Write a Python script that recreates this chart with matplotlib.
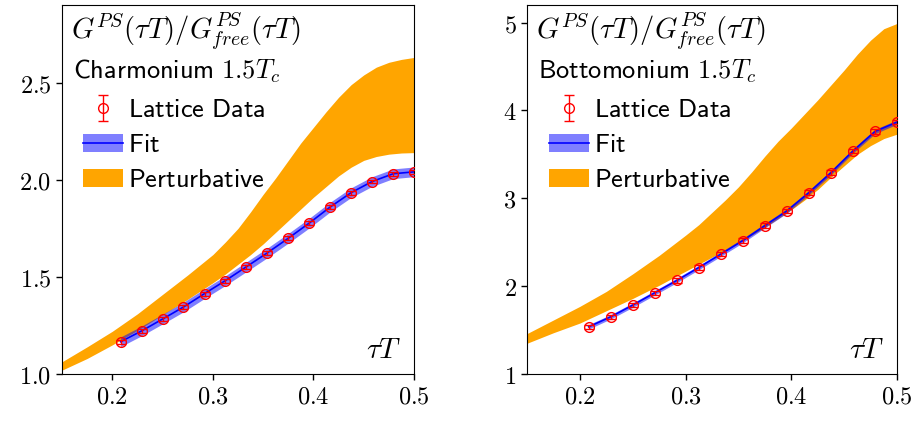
import matplotlib
matplotlib.use("Agg")
import matplotlib.pyplot as plt
import numpy as np
from matplotlib.patches import Patch
from matplotlib.lines import Line2D

plt.rcParams['mathtext.fontset'] = 'cm'
plt.rcParams['font.family'] = 'DejaVu Sans'

# tau*T points (N_tau = 48)
tau = [0.2083, 0.2292, 0.2500, 0.2708, 0.2917, 0.3125, 0.3333, 0.3542,
       0.3750, 0.3958, 0.4167, 0.4375, 0.4583, 0.4792, 0.5000]

# charmonium lattice data
charm_y = [1.166, 1.222, 1.283, 1.345, 1.414, 1.481, 1.552, 1.624,
           1.699, 1.777, 1.860, 1.934, 1.991, 2.031, 2.041]
charm_err = [0.010] * 15
charm_fit_err = 0.025

# bottomonium lattice data
bottom_y = [1.537, 1.651, 1.784, 1.924, 2.065, 2.212, 2.364, 2.519,
            2.689, 2.856, 3.065, 3.292, 3.538, 3.761, 3.867]
bottom_err = [0.025] * 15
bottom_fit_err = 0.025

# perturbative bands
band_x = [0.150, 0.175, 0.200, 0.225, 0.250, 0.275, 0.300, 0.3125,
          0.325, 0.3375, 0.350, 0.3625, 0.375, 0.3875, 0.400, 0.4125,
          0.425, 0.4375, 0.450, 0.4625, 0.475, 0.4875, 0.500]
charm_lo = [1.02, 1.08, 1.15, 1.225, 1.305, 1.385, 1.47, 1.515,
            1.565, 1.615, 1.67, 1.73, 1.79, 1.85, 1.91, 1.965,
            2.02, 2.065, 2.10, 2.12, 2.132, 2.138, 2.14]
charm_hi = [1.063, 1.14, 1.22, 1.31, 1.41, 1.51, 1.615, 1.68,
            1.75, 1.835, 1.925, 2.01, 2.10, 2.19, 2.27, 2.35,
            2.425, 2.49, 2.54, 2.58, 2.605, 2.62, 2.63]
bottom_lo = [1.35, 1.47, 1.58, 1.72, 1.86, 2.01, 2.17, 2.25,
             2.33, 2.41, 2.49, 2.58, 2.67, 2.77, 2.87, 2.98,
             3.10, 3.24, 3.37, 3.50, 3.60, 3.68, 3.73]
bottom_hi = [1.46, 1.615, 1.77, 1.94, 2.14, 2.35, 2.58, 2.70,
             2.84, 2.98, 3.13, 3.30, 3.48, 3.65, 3.80, 3.96,
             4.12, 4.29, 4.46, 4.64, 4.80, 4.93, 4.99]

xticks = [0.2, 0.3, 0.4, 0.5]
charm_yticks = [1.0, 1.5, 2.0, 2.5]
bottom_yticks = [1, 2, 3, 4, 5]

fig = plt.figure(figsize=(9.17, 4.21), dpi=100)
ax1 = fig.add_axes([0.0676, 0.1116, 0.3839, 0.8765])
ax2 = fig.add_axes([0.5747, 0.1116, 0.4035, 0.8765])

panels = [
    (ax1, charm_y, charm_err, charm_fit_err, charm_lo, charm_hi,
     charm_yticks, (1.0, 2.9), r"$\mathsf{Charmonium}\ 1.5T_c$", "{:.1f}"),
    (ax2, bottom_y, bottom_err, bottom_fit_err, bottom_lo, bottom_hi,
     bottom_yticks, (1.0, 5.2), r"$\mathsf{Bottomonium}\ 1.5T_c$", "{:d}"),
]

for ax, y, err, ferr, lo, hi, yt, ylim, title, fmt in panels:
    y = np.array(y)
    ax.fill_between(band_x, lo, hi, color='orange', lw=0, zorder=1)
    ax.fill_between(tau, y - ferr, y + ferr, color='blue', alpha=0.5, lw=0, zorder=2)
    ax.plot(tau, y, color='blue', lw=1.2, zorder=3)
    h_data = ax.errorbar(tau, y, yerr=err, fmt='o', mfc='none', mec='red', ecolor='red',
                         ms=7, mew=1.0, elinewidth=1.0, capsize=3.5, zorder=4)

    ax.set_xlim(0.15, 0.5)
    ax.set_ylim(*ylim)
    ax.set_xticks(xticks)
    ax.set_xticklabels([f"${t}$" for t in xticks])
    ax.set_yticks(yt)
    ax.set_yticklabels([f"${fmt.format(t)}$" for t in yt])
    ax.tick_params(labelsize=17.5, length=4, width=1)

    ax.text(0.025, 0.93, r"$G^{PS}(\tau T)/G^{PS}_{free}(\tau T)$",
            transform=ax.transAxes, fontsize=20.5, va='center', ha='left')
    ax.text(0.03, 0.82, title, transform=ax.transAxes, fontsize=19,
            va='center', ha='left')
    ax.text(0.965, 0.065, r"$\tau T$", transform=ax.transAxes, fontsize=21,
            va='center', ha='right')

    h_fit = (Patch(color='blue', alpha=0.5, lw=0), Line2D([], [], color='blue', lw=1.2))
    h_pert = Patch(color='orange', lw=0)
    ax.legend([h_data, h_fit, h_pert],
              [r"$\mathsf{Lattice\ Data}$", r"$\mathsf{Fit}$", r"$\mathsf{Perturbative}$"],
              loc='upper left', bbox_to_anchor=(0.06, 0.75), frameon=False,
              fontsize=19, borderpad=0, borderaxespad=0, labelspacing=0.34,
              handlelength=1.5, handletextpad=0.2)

fig.savefig("out.png", dpi=100)
